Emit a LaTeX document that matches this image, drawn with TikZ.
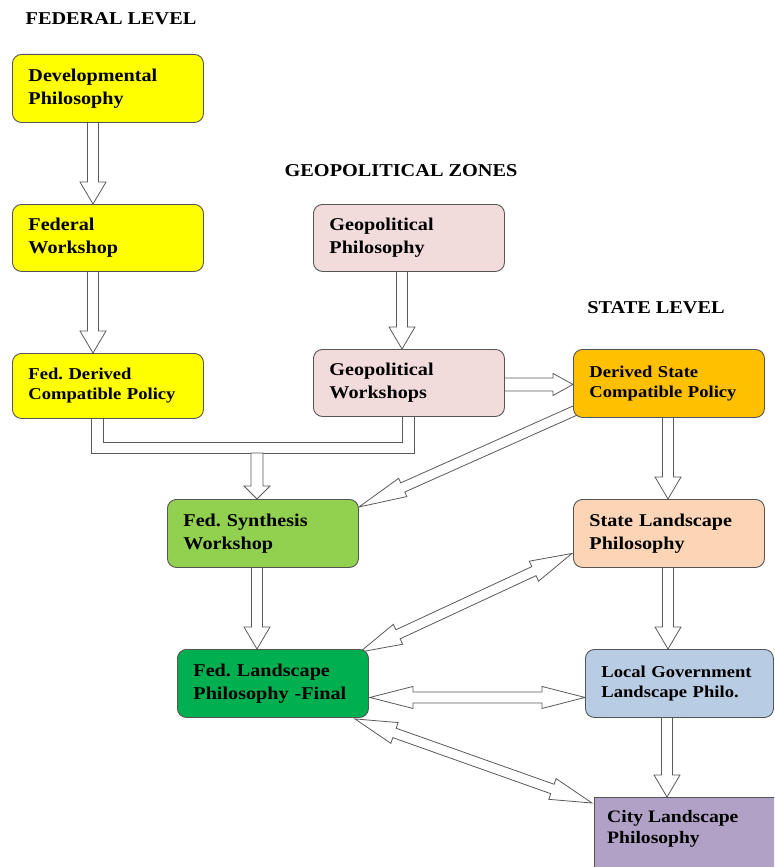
\documentclass[tikz,border=0pt]{standalone}
\usepackage{fontspec}
\setmainfont{Liberation Serif}[FakeStretch=1.12]
\usetikzlibrary{calc}
\definecolor{cyellow}{HTML}{FFFF00}
\definecolor{cpink}{HTML}{F2DCDB}
\definecolor{corange}{HTML}{FFC000}
\definecolor{clgreen}{HTML}{92D050}
\definecolor{cdgreen}{HTML}{00B050}
\definecolor{cpeach}{HTML}{FBD5B5}
\definecolor{cblue}{HTML}{B8CCE4}
\definecolor{cpurple}{HTML}{B2A1C7}
\definecolor{boxline}{HTML}{555555}
\definecolor{arrline}{HTML}{5A5A5A}
\pgfdeclarelayer{bg}
\pgfsetlayers{bg,main}
\frenchspacing
\tikzset{
  box/.style={draw=boxline, line width=0.9pt, rounded corners=9pt,
    minimum width=191pt, minimum height=68pt, anchor=north west,
    text width=159pt, inner xsep=16pt, inner ysep=0pt, align=left,
    font=\bfseries\fontsize{18}{22.7}\selectfont},
  smalltxt/.style={font=\bfseries\fontsize{16.6}{20}\selectfont},
  hdr/.style={inner sep=0pt, font=\bfseries\fontsize{18.1}{20}\selectfont},
  barrow/.style={draw=arrline, fill=white, line width=0.8pt, line join=miter}
}
% single block arrow: [style]{from}{to}{shaft half}{head half}{head length}
\newcommand\blkarrow[6][]{%
  \path ($(#3)!#6!(#2)$) coordinate (bac);
  \draw[barrow,#1] ($(#2)!#4!90:(#3)$) -- ($(bac)!#4!90:(#3)$) -- ($(bac)!#5!90:(#3)$)
    -- (#3) -- ($(bac)!#5!-90:(#3)$) -- ($(bac)!#4!-90:(#3)$) -- ($(#2)!#4!-90:(#3)$) -- cycle;}
% double block arrow
\newcommand\dblarrow[6][]{%
  \path ($(#3)!#6!(#2)$) coordinate (bac) ($(#2)!#6!(#3)$) coordinate (bad);
  \draw[barrow,#1] (#2) -- ($(bad)!#5!90:(#3)$) -- ($(bad)!#4!90:(#3)$) -- ($(bac)!#4!90:(#3)$)
    -- ($(bac)!#5!90:(#3)$) -- (#3) -- ($(bac)!#5!-90:(#3)$) -- ($(bac)!#4!-90:(#3)$)
    -- ($(bad)!#4!-90:(#3)$) -- ($(bad)!#5!-90:(#3)$) -- cycle;}
\begin{document}
\begin{tikzpicture}[x=1pt,y=-1pt]
\useasboundingbox (0,0) rectangle (774,867);
% headers
\node[hdr] (hfed) at (111,18.8) {FEDERAL LEVEL};
\node[hdr] (hgeo) at (401,170.5) {GEOPOLITICAL ZONES};
\node[hdr] (hstate) at (656,308) {STATE LEVEL};
% boxes
\node[box, fill=cyellow] (dev) at (12,54) {Developmental\\Philosophy};
\node[box, fill=cyellow, minimum height=67pt] (fedws) at (12,204) {Federal\\Workshop};
\node[box, fill=cyellow, minimum height=65pt, smalltxt] (fedder) at (12,353) {Fed. Derived\\Compatible Policy};
\node[box, fill=cpink, minimum height=67pt] (geoph) at (313,204) {Geopolitical\\Philosophy};
\node[box, fill=cpink, minimum height=67pt] (geows) at (313,349) {Geopolitical\\Workshops};
\node[box, fill=corange, smalltxt] (dstate) at (573,349) {Derived State\\Compatible Policy};
\node[box, fill=clgreen] (fsyn) at (167,499) {Fed. Synthesis\\Workshop};
\node[box, fill=cpeach] (sland) at (573,499) {State Landscape\\Philosophy};
\node[box, fill=cdgreen] (fland) at (177,649) {Fed. Landscape\\Philosophy -Final};
\node[box, fill=cblue, minimum width=188pt, text width=156pt, smalltxt] (lgov) at (585,649) {Local Government\\Landscape Philo.};
\begin{scope}
  \clip (0,0) rectangle (774,867);
  \node[draw=boxline, line width=0.9pt, fill=cpurple, anchor=north west,
        minimum width=200pt, minimum height=100pt, inner sep=0pt] (city) at (594,797) {};
\end{scope}
\node[anchor=north west, inner sep=0pt, align=left,
      font=\bfseries\fontsize{17.5}{21}\selectfont] (citytxt) at (607,810) {City Landscape\\Philosophy};
% connectors
\begin{pgfonlayer}{bg}
  \coordinate (a1) at ($(dev.south west)+(81,-10)$);
  \coordinate (b1) at ($(fedws.north west)+(81,0)$);
  \blkarrow{a1}{b1}{5.5pt}{13pt}{22pt}
  \coordinate (a2) at ($(fedws.south west)+(81,-10)$);
  \coordinate (b2) at ($(fedder.north west)+(81,0)$);
  \blkarrow{a2}{b2}{5.5pt}{13pt}{22pt}
  \coordinate (a3) at ($(geoph.south west)+(89,-10)$);
  \coordinate (b3) at ($(geows.north west)+(89,0)$);
  \blkarrow{a3}{b3}{5.5pt}{13pt}{22pt}
  \coordinate (a4) at ($(geows.east)+(-10,1.5)$);
  \coordinate (b4) at ($(dstate.west)+(0,1)$);
  \blkarrow{a4}{b4}{6.5pt}{11pt}{20pt}
  \coordinate (a5) at ($(dstate.south west)+(95,-10)$);
  \coordinate (b5) at ($(sland.north west)+(95,0)$);
  \blkarrow{a5}{b5}{5.5pt}{13pt}{22pt}
  \coordinate (a6) at ($(sland.south west)+(95,-10)$);
  \coordinate (b6) at ($(lgov.north west)+(83,0)$);
  \blkarrow{a6}{b6}{5.5pt}{13pt}{22pt}
  \coordinate (a7) at ($(lgov.south west)+(82,-10)$);
  \coordinate (b7) at ($(city.north west)+(73,0)$);
  \blkarrow{a7}{b7}{5.5pt}{13pt}{22pt}
  \coordinate (a8) at ($(fsyn.south west)+(90,-10)$);
  \coordinate (b8) at ($(fland.north west)+(80,0)$);
  \blkarrow{a8}{b8}{5.5pt}{13pt}{22pt}
  % bracket joining the two policy boxes
  \draw[barrow] ($(fedder.south west)+(79,-5)$) |- ($(geows.south west)+(101,36)$)
    -- ($(geows.south west)+(101,-5)$) -- ($(geows.south west)+(89,-5)$)
    |- ($(fedder.south west)+(91,23)$) -- ($(fedder.south west)+(91,-5)$) -- cycle;
  \coordinate (a9) at ($(fedder.south west)+(245,34)$);
  \coordinate (b9) at ($(fsyn.north west)+(90,0)$);
  \blkarrow{a9}{b9}{6pt}{13pt}{13pt}
  % diagonal arrows
  \coordinate (a10) at ($(dstate.south west)+(8,-10)$);
  \coordinate (b10) at ($(fsyn.north east)+(0,8)$);
  \blkarrow{a10}{b10}{5pt}{10pt}{48pt}
  \coordinate (a11) at ($(fland.north east)+(-9,3)$);
  \coordinate (b11) at ($(sland.west)+(-1,20)$);
  \dblarrow{a11}{b11}{5pt}{11pt}{42pt}
  \coordinate (a12) at ($(fland.east)+(1,14)$);
  \coordinate (b12) at ($(lgov.west)+(0,14)$);
  \dblarrow{a12}{b12}{5.5pt}{11pt}{43pt}
  \coordinate (a13) at ($(fland.south east)+(-14,1)$);
  \coordinate (b13) at ($(city.north west)+(-2,6)$);
  \dblarrow{a13}{b13}{5pt}{11pt}{42pt}
\end{pgfonlayer}
\end{tikzpicture}
\end{document}
